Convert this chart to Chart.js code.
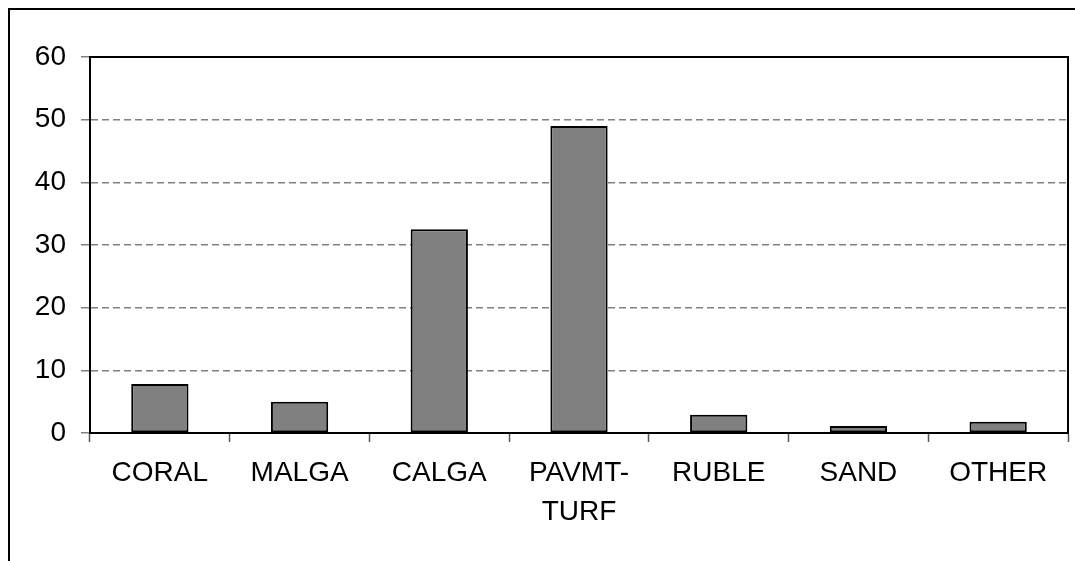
<!DOCTYPE html>
<html>
<head>
<meta charset="utf-8">
<script src="https://cdn.jsdelivr.net/npm/chart.js@4/dist/chart.umd.min.js"></script>
<style>
  body { margin: 0; background: #fff; overflow: hidden; }
  #wrap { position: relative; width: 1075px; height: 561px; }
  #frame {
    position: absolute; left: 8px; top: 8px;
    width: 1100px; height: 600px;
    border: 2px solid #000; box-sizing: border-box;
  }
  canvas { position: absolute; left: 0; top: 0; }
</style>
</head>
<body>
<div id="wrap">
  <div id="frame"></div>
  <canvas id="cover" width="1075" height="561"></canvas>
</div>
<script>
// cover types and their values
const categories = ["CORAL", "MALGA", "CALGA", ["PAVMT-", "TURF"], "RUBLE", "SAND", "OTHER"];
const values = [7.8, 5.0, 32.5, 49.0, 2.9, 1.1, 1.8];
const yTicks = [0, 10, 20, 30, 40, 50, 60];

const font = { family: "'Liberation Sans', Arial, sans-serif", size: 28, lineHeight: 1.39 };

// black frame round the plot area
const plotBorder = {
  id: "plotBorder",
  afterDraw(chart) {
    const { ctx, chartArea: a } = chart;
    ctx.save();
    ctx.strokeStyle = "#000";
    ctx.lineWidth = 2;
    ctx.strokeRect(a.left, a.top, a.right - a.left, a.bottom - a.top);
    ctx.restore();
  }
};

const ctx = document.getElementById("cover").getContext("2d");
new Chart(ctx, {
  type: "bar",
  data: {
    labels: categories,
    datasets: [{
      data: values,
      backgroundColor: "#808080",
      borderColor: "#000",
      borderWidth: 2,
      borderSkipped: false,
      barPercentage: 0.41,
      categoryPercentage: 1
    }]
  },
  options: {
    responsive: false,
    animation: false,
    layout: { padding: { top: 57, right: 7, left: 0, bottom: 0 } },
    plugins: { legend: { display: false }, tooltip: { enabled: false } },
    scales: {
      x: {
        afterFit: s => { s.height = 128; },
        grid: {
          offset: true,
          drawOnChartArea: false,
          drawTicks: true,
          tickLength: 9,
          tickColor: "#555",
          tickWidth: 1.5
        },
        border: { color: "#000", width: 2 },
        ticks: { color: "#000", font: font, padding: 12, maxRotation: 0, autoSkip: false }
      },
      y: {
        min: 0,
        max: 60,
        afterFit: s => { s.width = 90; },
        afterBuildTicks: s => { s.ticks = yTicks.map(v => ({ value: v })); },
        grid: {
          color: "#808080",
          lineWidth: 1.5,
          tickLength: 9,
          tickColor: "#808080",
          tickBorderDash: []
        },
        border: { color: "#000", width: 2, dash: [7, 4] },
        ticks: { color: "#000", font: font, padding: 15 }
      }
    }
  },
  plugins: [plotBorder]
});
</script>
</body>
</html>
